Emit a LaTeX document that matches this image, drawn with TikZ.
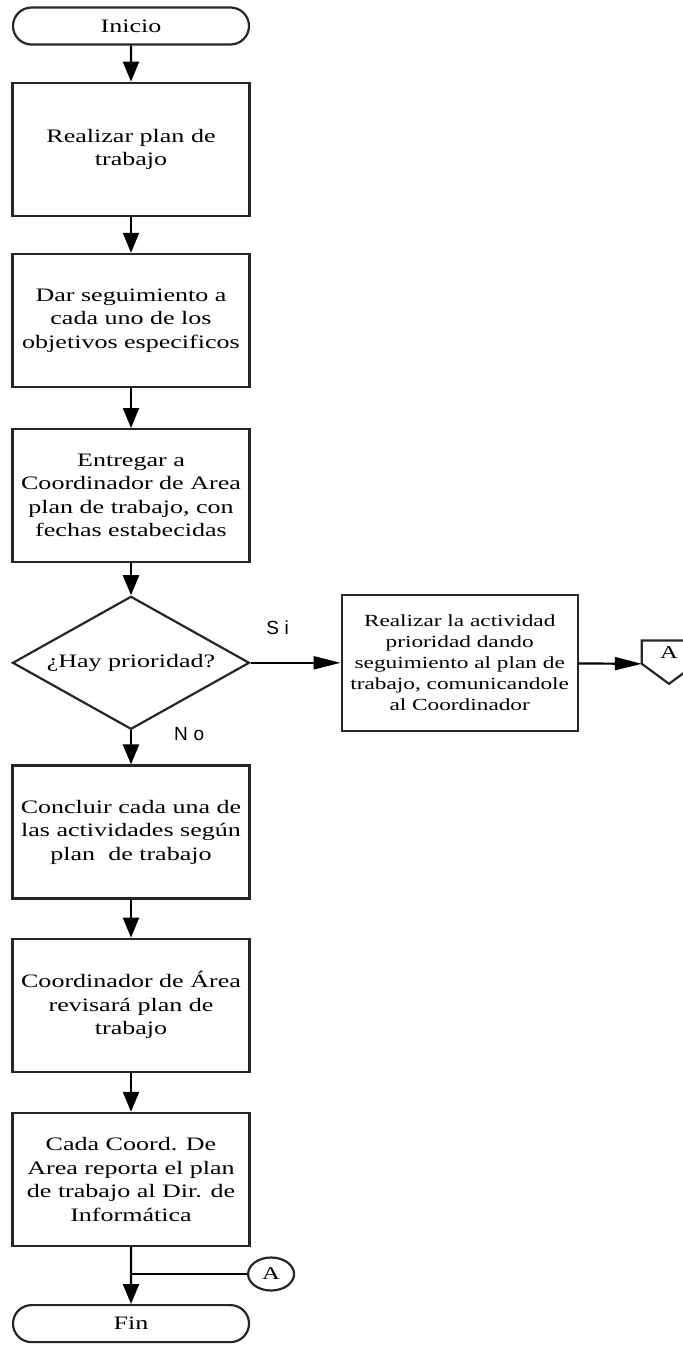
\documentclass[tikz,border=0pt]{standalone}
\usepackage{fontspec}
\setmainfont{Liberation Serif}[FakeStretch=1.37]
\newfontfamily\labelfont{Liberation Sans}[LetterSpace=30]
\usepackage{tikz}
\usetikzlibrary{positioning, shapes.geometric, shapes.misc, arrows.meta}

\begin{document}
\begin{tikzpicture}[x=1pt, y=1pt, node distance=36pt,
  every node/.style={font=\fontsize{19}{23.5}\selectfont},
  line/.style={line width=2.2pt, draw=black!85},
  tarea/.style={line, rectangle, minimum width=237pt, minimum height=133pt, align=center, inner sep=2pt},
  terminal/.style={line, rounded rectangle, minimum width=236pt, minimum height=37pt, inner sep=0pt},
  decision/.style={line, diamond, aspect=1.8, minimum width=237pt, minimum height=133pt, inner sep=0pt},
  conector/.style={line, ellipse, minimum width=46pt, minimum height=33pt, inner sep=0pt, font=\fontsize{18}{18}\selectfont},
  offpage/.style={minimum width=54pt, minimum height=23pt, inner sep=0pt, font=\fontsize{18}{18}\selectfont},
  lbl/.style={font=\labelfont\fontsize{19}{19}\selectfont, inner sep=0pt},
  varrow/.style={line, draw=black, -{Triangle[length=20pt, width=16pt]}},
  harrow/.style={line, draw=black, -{Triangle[length=27pt, width=13pt]}}]
  \useasboundingbox (0,0) rectangle (683,-1353);

  \node[terminal] (inicio) at (131,-26) {Inicio};
  \node[tarea, below=of inicio] (plan) {Realizar plan de\\trabajo};
  \node[tarea, below=of plan] (seguir) {Dar seguimiento a\\cada uno de los\\objetivos especificos};
  \node[tarea, below=40pt of seguir] (entregar) {Entregar a\\Coordinador de Area\\plan de trabajo, con\\fechas estabecidas};
  \node[decision, below=32pt of entregar] (prio) {¿Hay prioridad?};
  \node[tarea, right=90pt of prio, minimum width=236pt, minimum height=136pt,
        font=\fontsize{17}{21}\selectfont] (actividad)
       {Realizar la actividad\\prioridad dando\\seguimiento al plan de\\trabajo, comunicandole\\al Coordinador};
  \node[offpage, anchor=south west] (salidaA) at ([xshift=63pt, yshift=-1pt]actividad.east) {A};
  \node[tarea, below=34pt of prio] (concluir) {Concluir cada una de\\las actividades según\\plan~ de trabajo};
  \node[tarea, below=38pt of concluir] (revisar) {Coordinador de Área\\revisará plan de\\trabajo};
  \node[tarea, below=39pt of revisar] (reportar) {Cada Coord. De\\Area reporta el plan\\de trabajo al Dir. de\\Informática};
  \node[terminal, below=57pt of reportar] (fin) {Fin};
  \coordinate[below=27pt of reportar] (union);
  \node[conector, right=116pt of union] (entradaA) {A};

  \draw[line] (salidaA.south west) |- (salidaA.north east) -- (salidaA.south east)
    -- ([yshift=-20pt]salidaA.south) -- cycle;

  \path[varrow]
    (inicio) edge (plan)
    (plan) edge (seguir)
    (seguir) edge (entregar)
    (entregar) edge (prio)
    (prio) edge node[lbl, pos=.1, right=42pt] {No} (concluir)
    (concluir) edge (revisar)
    (revisar) edge (reportar)
    (reportar) edge (fin);
  \path[harrow]
    (prio) edge node[lbl, pos=.3, above=27pt] {Si} (actividad)
    (actividad) edge (salidaA.south west);
  \draw[line, draw=black] (entradaA) -- (union);
\end{tikzpicture}
\end{document}
